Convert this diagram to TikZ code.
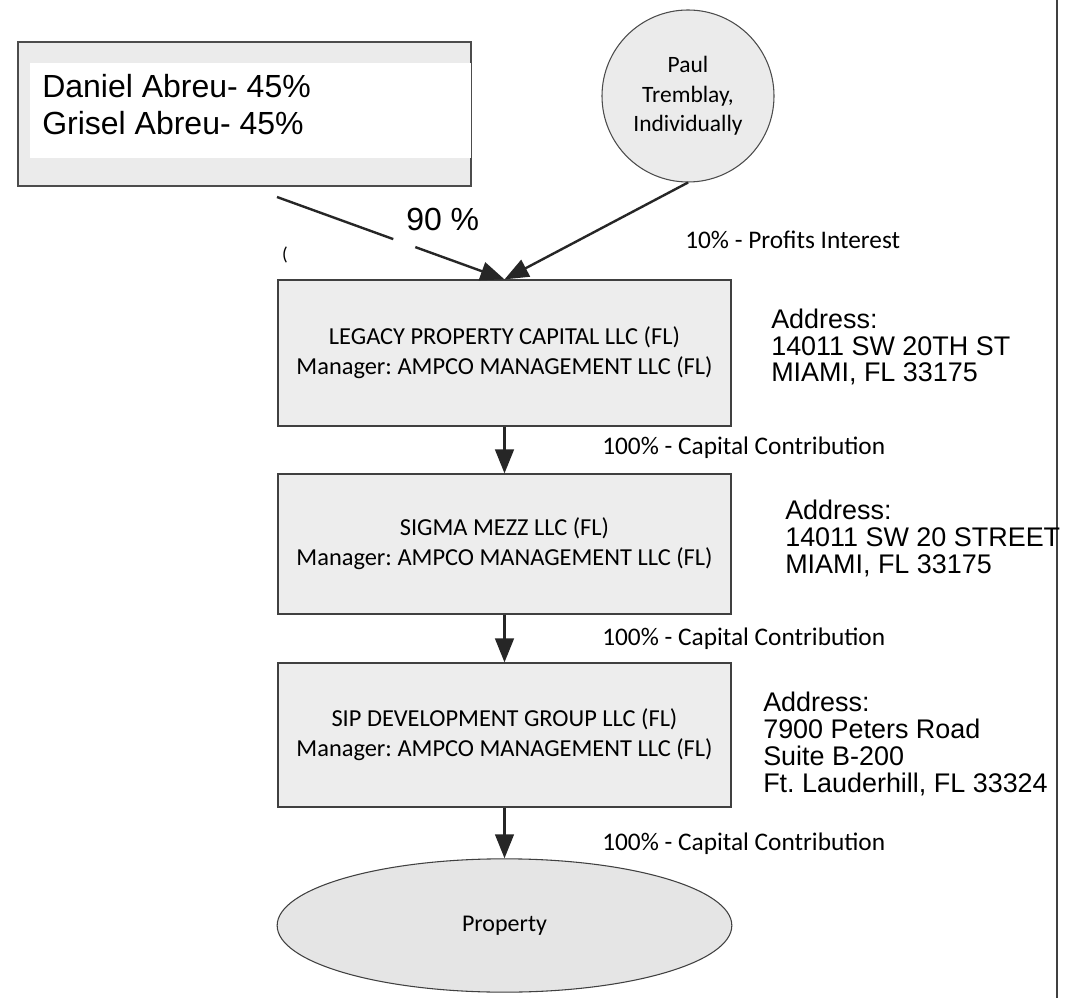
\documentclass[tikz,border=0pt]{standalone}
\usepackage{fontspec}
\setmainfont{Carlito}
\newfontfamily\arialf{Liberation Sans}
\usetikzlibrary{arrows.meta,shapes.geometric,calc}
\frenchspacing
\begin{document}
\begin{tikzpicture}[x=0.75pt,y=-0.75pt,
  entity/.style={draw=black!75,line width=0.9pt,fill=black!7,minimum width=339.75pt,align=center,font=\fontsize{18.3}{22.5}\selectfont,inner sep=0pt},
  flowline/.style={draw=black!85,line width=1.8pt},
  flow/.style={flowline,-{Triangle[length=18pt,width=14pt]}},
  lbl/.style={anchor=base west,font=\fontsize{19}{22}\selectfont,inner sep=0pt},
  addr/.style={anchor=base west,align=left,font=\arialf\fontsize{20.2}{20.1}\selectfont,inner sep=0pt},
  bigtxt/.style={font=\arialf\fontsize{24}{27.75}\selectfont,inner sep=0pt}]
\useasboundingbox (0,0) rectangle (1071,998);
\fill[white] (0,0) rectangle (1071,998);

% right rule
\coordinate (rt) at (1057,0);
\coordinate (rb) at (1057,998);
\draw[black!75,line width=1pt] (rt) -- (rb);

% owners box
\node[draw=black!70,line width=0.8pt,fill=black!8,minimum width=339.75pt,minimum height=108pt,inner sep=0pt] (own) at (244.5,114) {};
\fill[white] (30,63) rectangle (470.5,158);
\node[bigtxt,anchor=base west,align=left] (ownt) at (42,135) {Daniel Abreu- 45\%\\Grisel Abreu- 45\%};

% Paul circle
\node[circle,draw=black!70,line width=0.8pt,fill=black!8,minimum size=129pt,inner sep=0pt,align=center,font=\fontsize{17.6}{22}\selectfont] (paul) at (688,96) {Paul\\Tremblay,\\Individually};

% entities
\node[entity,minimum height=109.5pt] (legacy) at (504.5,353) {\raisebox{-5pt}{\parbox{330pt}{\centering LEGACY PROPERTY CAPITAL LLC (FL)\\Manager: AMPCO MANAGEMENT LLC (FL)}}};
\node[entity,minimum height=105pt] (sigma) at (504.5,544) {\raisebox{-4pt}{\parbox{330pt}{\centering SIGMA MEZZ LLC (FL)\\Manager: AMPCO MANAGEMENT LLC (FL)}}};
\node[entity,minimum height=108pt] (sip) at (504.5,735) {\raisebox{-3pt}{\parbox{330pt}{\centering SIP DEVELOPMENT GROUP LLC (FL)\\Manager: AMPCO MANAGEMENT LLC (FL)}}};
\node[ellipse,draw=black!75,line width=0.8pt,fill=black!10,minimum width=341pt,minimum height=100pt,inner sep=0pt,font=\fontsize{18}{20}\selectfont] (prop) at (504.5,925.5) {Property};

% connectors
\coordinate (d1) at (277,197);
\draw[flowline] (d1) -- ($(d1)!0.511!(legacy.north)$);
\draw[flow] ($(d1)!0.608!(legacy.north)$) -- (legacy.north);
\node[bigtxt,anchor=base west] (p90) at (406,231) {90 \%};
\draw[flow] (paul.south) -- (legacy.north);
\draw[flow] (legacy.south) -- (sigma.north);
\draw[flow] (sigma.south) -- (sip.north);
\draw[flow] (sip.south) -- (prop.north);

% small marks
\node[font=\fontsize{14}{14}\selectfont,inner sep=0pt] (paren) at (285,255) {(};

% labels
\node[lbl] (l10) at (685,249) {10\% - Profits Interest};
\node[lbl] (c1) at (602,455) {100\% - Capital Contribution};
\node[lbl] (c2) at (602,645) {100\% - Capital Contribution};
\node[lbl] (c3) at (602,850) {100\% - Capital Contribution};

% addresses
\node[addr] (a1) at (771,382) {Address:\\14011 SW 20TH ST\\MIAMI, FL 33175};
\node[addr] (a2) at (785,573) {Address:\\14011 SW 20 STREET\\MIAMI, FL 33175};
\node[addr] (a3) at (763,792) {Address:\\7900 Peters Road\\Suite B-200\\Ft. Lauderhill, FL 33324};
\end{tikzpicture}
\end{document}
